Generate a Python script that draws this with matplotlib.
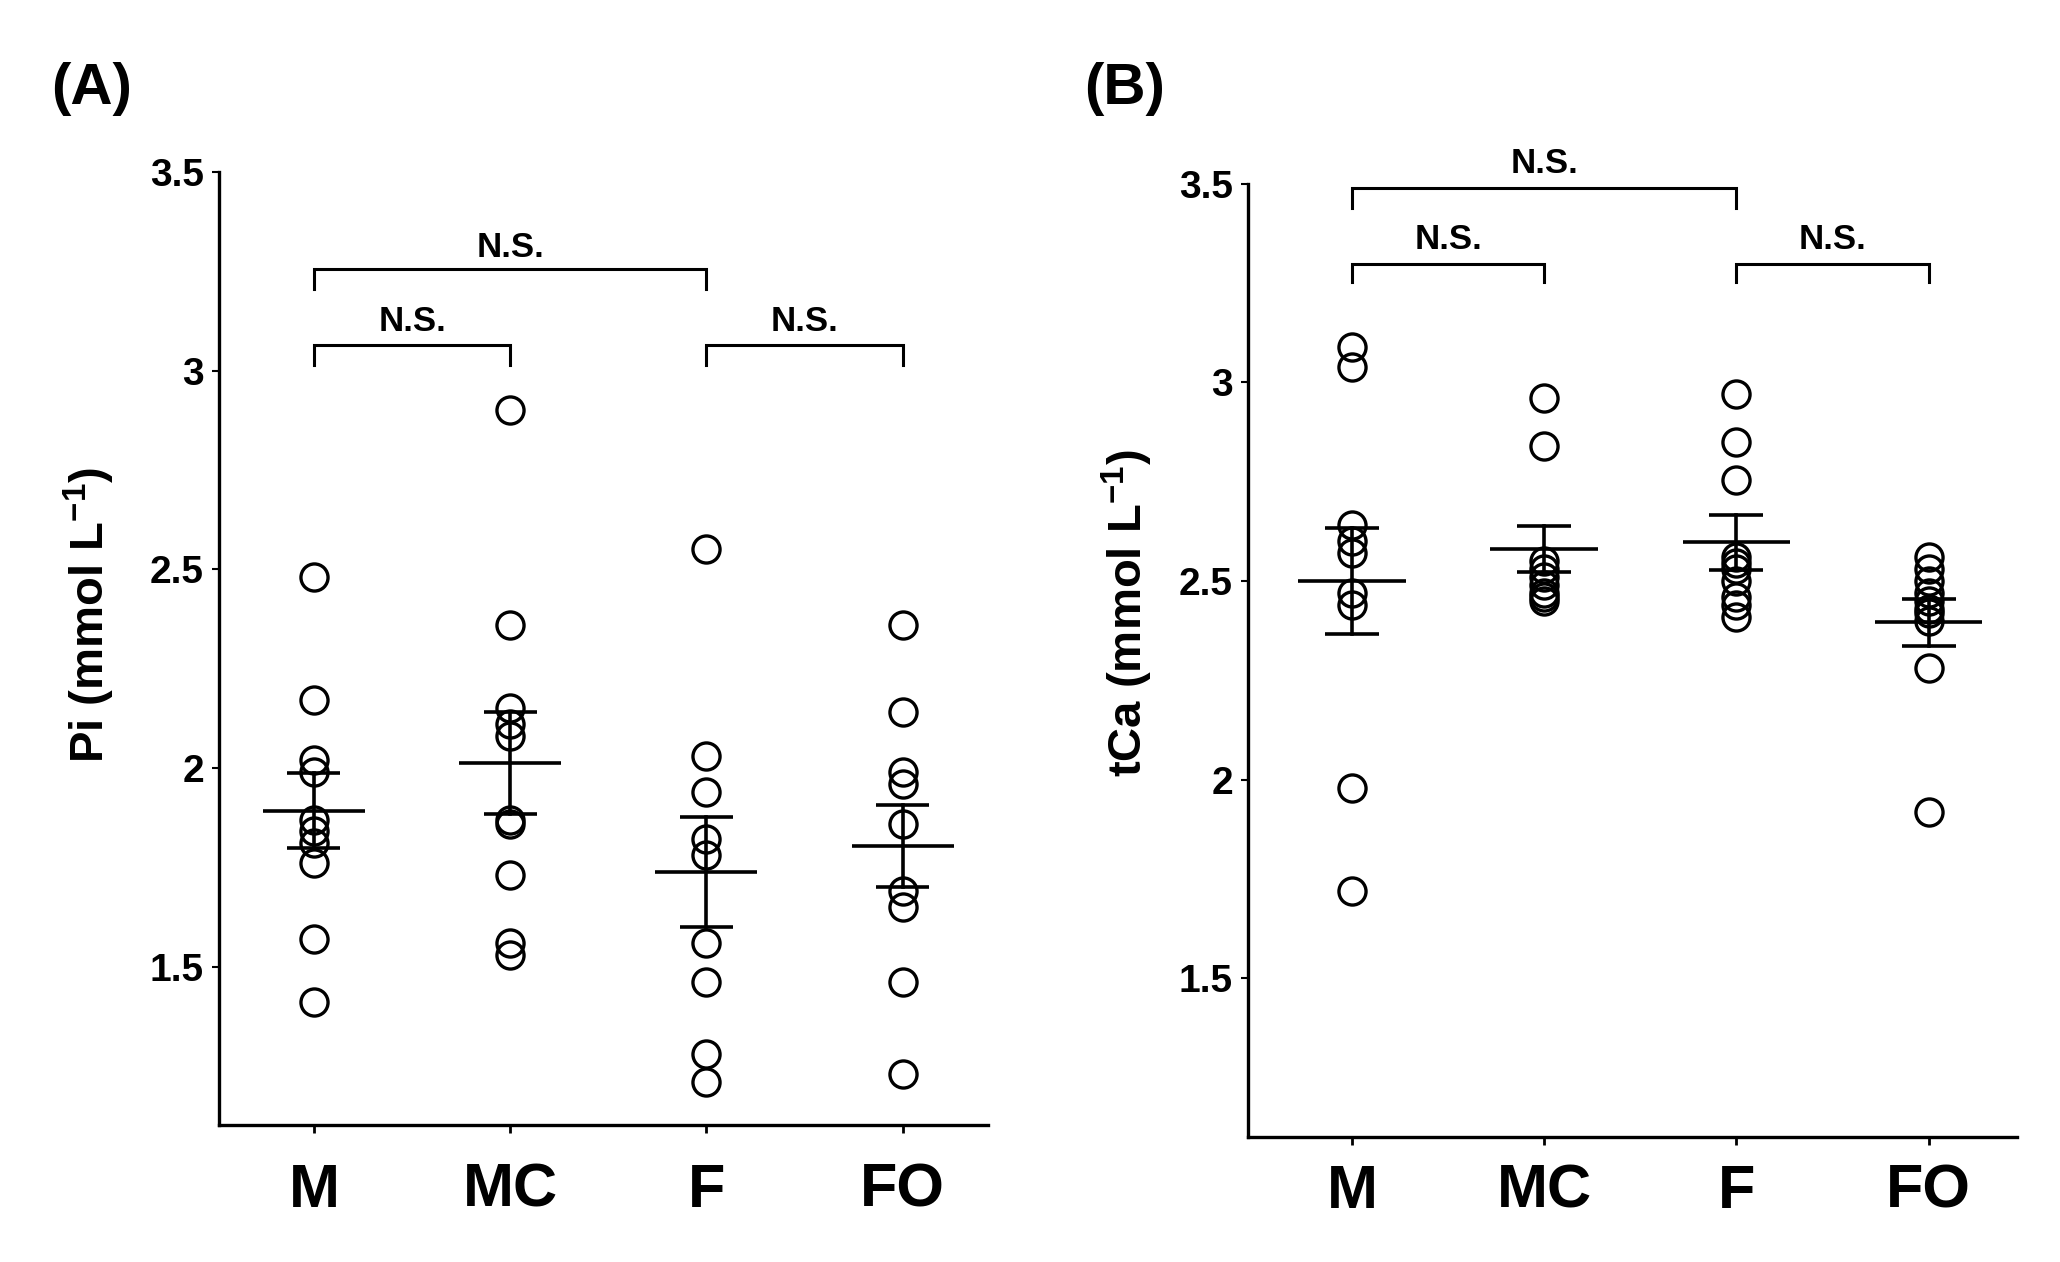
import matplotlib
matplotlib.use("Agg")
import matplotlib.pyplot as plt
from matplotlib import font_manager as fm

# ---------------- data ----------------
groups = ["M", "MC", "F", "FO"]

pi_M = [2.48, 2.17, 2.02, 1.99, 1.87, 1.84, 1.81, 1.76, 1.57, 1.41]
pi_MC = [2.90, 2.36, 2.15, 2.11, 2.08, 1.87, 1.86, 1.73, 1.56, 1.53]
pi_F = [2.55, 2.03, 1.94, 1.82, 1.78, 1.56, 1.46, 1.28, 1.21]
pi_FO = [2.36, 2.14, 1.99, 1.96, 1.86, 1.69, 1.65, 1.46, 1.23]
pi_mean = [1.892, 2.012, 1.738, 1.803]
pi_sem = [0.094, 0.128, 0.139, 0.103]

tca_M = [3.09, 3.04, 2.64, 2.60, 2.57, 2.47, 2.44, 1.98, 1.72]
tca_MC = [2.96, 2.84, 2.55, 2.53, 2.51, 2.49, 2.47, 2.46, 2.45]
tca_F = [2.97, 2.85, 2.755, 2.56, 2.545, 2.53, 2.50, 2.46, 2.44, 2.41]
tca_FO = [2.56, 2.53, 2.50, 2.47, 2.45, 2.43, 2.42, 2.40, 2.28, 1.92]
tca_mean = [2.500, 2.581, 2.598, 2.396]
tca_sem = [0.133, 0.057, 0.069, 0.059]

yticks = [1.5, 2.0, 2.5, 3.0, 3.5]
ytick_labels = ["1.5", "2", "2.5", "3", "3.5"]

# ---------------- fonts ----------------
avail = {f.name for f in fm.fontManager.ttflist}
main_font = "Liberation Sans" if "Liberation Sans" in avail else "DejaVu Sans"
narrow_font = "Liberation Sans Narrow" if "Liberation Sans Narrow" in avail else main_font

plt.rcParams["font.family"] = [main_font, "DejaVu Sans"]
plt.rcParams["mathtext.fontset"] = "custom"
plt.rcParams["mathtext.rm"] = main_font
plt.rcParams["mathtext.bf"] = main_font + ":bold"

fig = plt.figure(figsize=(20.6, 12.62), dpi=100)
W, H = 1568.0, 961.0


def ax_rect(l, r, t, b):
    return [l / W, 1 - b / H, (r - l) / W, (b - t) / H]


axA = fig.add_axes(ax_rect(167, 752, 131, 857))
axB = fig.add_axes(ax_rect(950, 1535, 140, 866))


def draw_panel(ax, data, means, sems, xlim, half_mean, half_cap, brackets, xpad):
    for i, vals in enumerate(data):
        ax.plot([i] * len(vals), vals, linestyle="none", marker="o",
                markersize=19.5, markerfacecolor="none", markeredgecolor="black",
                markeredgewidth=2.4, zorder=2)
        m, s = means[i], sems[i]
        ax.plot([i - half_mean, i + half_mean], [m, m], color="black", lw=2.6, zorder=3,
                solid_capstyle="butt")
        ax.plot([i, i], [m - s, m + s], color="black", lw=2.6, zorder=3)
        for yy in (m - s, m + s):
            ax.plot([i - half_cap, i + half_cap], [yy, yy], color="black", lw=2.6,
                    zorder=3, solid_capstyle="butt")
    for (x1, x2, ytop, ybot, ytext) in brackets:
        ax.plot([x1, x1, x2, x2], [ybot, ytop, ytop, ybot], color="black", lw=2.2,
                clip_on=False, solid_joinstyle="miter")
        ax.text((x1 + x2) / 2, ytext, "N.S.", ha="center", va="center",
                fontsize=25, fontweight="bold", family=[narrow_font, "DejaVu Sans"])
    ax.set_xlim(*xlim)
    ax.set_ylim(1.1, 3.5)
    ax.set_xticks(range(len(groups)))
    ax.set_xticklabels(groups, fontsize=44, fontweight="bold")
    ax.set_yticks(yticks)
    ax.set_yticklabels(ytick_labels, fontsize=28, fontweight="bold",
                       family=[narrow_font, "DejaVu Sans"])
    for sp in ("top", "right"):
        ax.spines[sp].set_visible(False)
    for sp in ("left", "bottom"):
        ax.spines[sp].set_linewidth(2.4)
    ax.tick_params(axis="x", length=6, width=2.0, pad=xpad)
    ax.tick_params(axis="y", length=5, width=1.5, pad=6)


draw_panel(axA, [pi_M, pi_MC, pi_F, pi_FO], pi_mean, pi_sem,
           (-0.482, 3.435), 0.26, 0.135,
           [(0, 2, 3.255, 3.205, 3.31), (0, 1, 3.064, 3.015, 3.123),
            (2, 3, 3.064, 3.015, 3.123)], 21)
draw_panel(axB, [tca_M, tca_MC, tca_F, tca_FO], tca_mean, tca_sem,
           (-0.54, 3.458), 0.28, 0.14,
           [(0, 2, 3.49, 3.44, 3.55), (0, 1, 3.298, 3.252, 3.361),
            (2, 3, 3.298, 3.252, 3.361)], 13)

fig.text(68 / W, 1 - 468 / H, r"Pi (mmol L$^{\mathbf{-1}}$)", rotation=90,
         ha="center", va="center", fontsize=34, fontweight="bold")
fig.text(858 / W, 1 - 467 / H, r"tCa (mmol L$^{\mathbf{-1}}$)", rotation=90,
         ha="center", va="center", fontsize=34, fontweight="bold")

fig.text(70 / W, 1 - 68 / H, "(A)", ha="center", va="center", fontsize=42,
         fontweight="bold")
fig.text(856 / W, 1 - 68 / H, "(B)", ha="center", va="center", fontsize=42,
         fontweight="bold")

fig.savefig("out.png", dpi=100, facecolor="white")
